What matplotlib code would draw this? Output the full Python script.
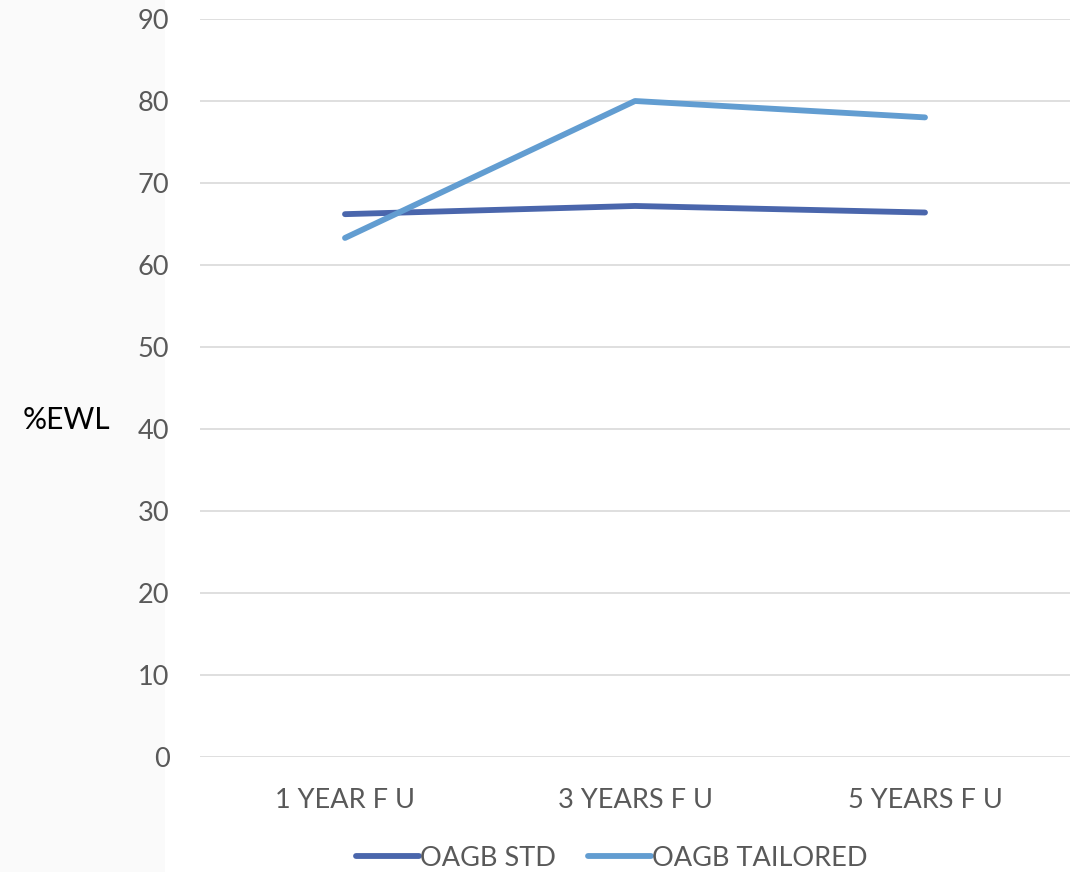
import matplotlib.pyplot as plt
from matplotlib.patches import Rectangle

plt.rcParams['font.family'] = ['Lato', 'DejaVu Sans']

categories = ['1 YEAR F U', '3 YEARS F U', '5 YEARS F U']
oagb_std = [66.2, 67.2, 66.4]
oagb_tailored = [63.3, 80.0, 78.0]
y_ticks = [0, 10, 20, 30, 40, 50, 60, 70, 80, 90]

fig = plt.figure(figsize=(10.86, 8.72), dpi=100)
fig.patches.append(Rectangle((0, 0), 165 / 1086, 1, transform=fig.transFigure,
                             facecolor='#fafafa', edgecolor='none', zorder=-1))
ax = fig.add_axes([200 / 1086, 1 - 757 / 872, 870 / 1086, 738 / 872])
ax.patch.set_alpha(0)

x = range(len(categories))
ax.plot(x, oagb_std, color='#4A66AC', lw=4.2, solid_capstyle='round', label='OAGB STD')
ax.plot(x, oagb_tailored, color='#629DD1', lw=4.2, solid_capstyle='round', label='OAGB TAILORED')

ax.set_xlim(-0.5, 2.5)
ax.set_ylim(0, 90)
ax.set_yticks(y_ticks)
ax.set_xticks(list(x))
ax.set_xticklabels(categories)
ax.grid(axis='y', color='#d9d9d9', lw=1.2)
ax.set_axisbelow(True)
for s in ax.spines.values():
    s.set_visible(False)
ax.tick_params(length=0, labelsize=19.5, labelcolor='#595959')
ax.tick_params(axis='y', pad=22)
ax.tick_params(axis='x', pad=22)

fig.text(23 / 1086, 1 - 420 / 872, '%EWL', fontsize=21.5, color='black', va='center', ha='left')

ax.legend(loc='center', bbox_to_anchor=(612 / 1086, 1 - 858 / 872), bbox_transform=fig.transFigure,
          ncol=2, frameon=False, fontsize=19.5, labelcolor='#595959', handlelength=2.3,
          handletextpad=0.05, columnspacing=1.2)

fig.savefig('out.png', dpi=100)
